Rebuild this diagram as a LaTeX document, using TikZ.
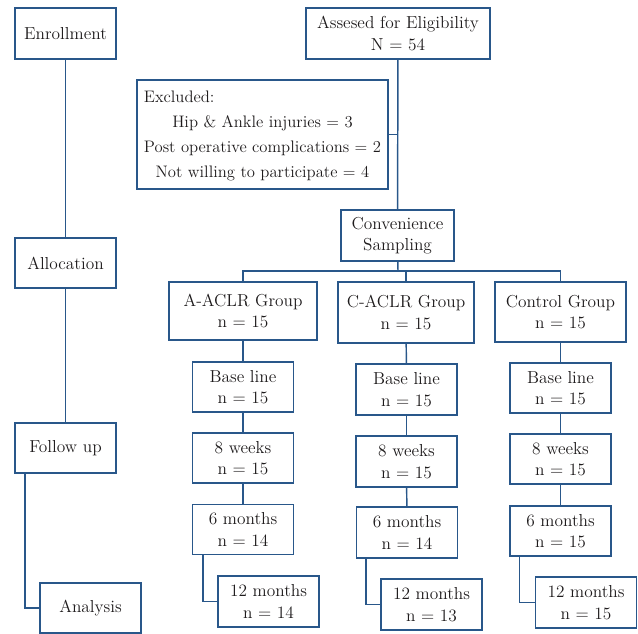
\documentclass[tikz,border=0pt]{standalone}
\usepackage{tikz}
\usepackage[usenames]{xcolor}
\usetikzlibrary{positioning}
\definecolor{boxblue}{RGB}{41,87,138}
\definecolor{txtgray}{RGB}{30,27,28}

\tikzset{
  box/.style={draw=boxblue,line width=1.1pt,inner sep=0pt,align=center,
    text=txtgray,font=\fontsize{13}{16.2}\selectfont},
  stage/.style={box,minimum width=75.75pt,minimum height=37.5pt},
  link/.style={draw=boxblue,line width=1.1pt}
}

\begin{document}
\begin{tikzpicture}[line cap=butt,line join=miter,x=0.75pt,y=-0.75pt]
\useasboundingbox (0,0) rectangle (638,633);
% phases on the left
\node[stage,minimum height=38.25pt] (enroll) at (65.5,33.5) {Enrollment};
\node[stage] (alloc) at (65.5,263) {Allocation};
\node[stage] (follow) at (65.5,448) {Follow up};
\node[stage] (analysis) at (90.5,608) {Analysis};
\draw[link] (enroll) -- (alloc);
\draw[link] (alloc) -- (follow);
\coordinate (fdrop) at (25,473);
\draw[link] (fdrop) |- (analysis.west);
% enrolment and exclusion
\node[box,minimum width=138pt,minimum height=38.25pt] (assess) at (398,33.5) {Assesed for Eligibility\\N = 54};
\node[box,minimum width=188.25pt,minimum height=81.75pt,font=\fontsize{12.5}{18.75}\selectfont] (excl) at (262.5,134.5)
  {\begin{tabular}{@{}c@{}}\multicolumn{1}{@{}l@{}}{Excluded:}\\Hip \& Ankle injuries = 3\\Post operative complications = 2\\Not willing to participate = 4\end{tabular}};
\node[box,minimum width=84.75pt,minimum height=38.25pt] (conv) at (397.5,235.5) {Convenience\\Sampling};
\draw[link] (assess) -- (conv);
\draw[link] (excl.east) -- (excl.east -| assess.south);
% groups
\node[box,minimum width=111pt,minimum height=43.5pt] (grpA) at (243,311) {A-ACLR Group\\n = 15};
\node[box,minimum width=102pt,minimum height=45.75pt] (grpC) at (406,312.5) {C-ACLR Group\\n = 15};
\node[box,minimum width=98.25pt,minimum height=45pt] (grpK) at (560.5,312) {Control Group\\n = 15};
\coordinate (bar) at (398,271);
\draw[link] (conv) -- (bar);
\draw[link] (grpA.north) |- (bar) -| (grpK.north);
\draw[link] (grpC.north) -- (grpC.north |- bar);
% A-ACLR follow up
\node[stage] (baseA) at (243,387) {Base line\\n = 15};
\node[stage] (wkA) at (243,458) {8 weeks\\n = 15};
\node[stage] (sixA) at (243,529.5) {6 months\\n = 14};
\node[stage,minimum height=38.25pt] (twelveA) at (268.5,601.5) {12 months\\n = 14};
\draw[link] (grpA) -- (baseA);
\draw[link] (baseA) -- (wkA);
\draw[link] (wkA) -- (sixA);
\draw[link] ([xshift=8.25pt]sixA.south west) |- (twelveA.west);
% C-ACLR follow up
\node[stage,minimum height=38.25pt] (baseC) at (406.5,389.5) {Base line\\n = 15};
\node[stage,minimum height=38.25pt] (wkC) at (406.5,461.5) {8 weeks\\n = 15};
\node[stage,minimum height=38.25pt] (sixC) at (407,532.5) {6 months\\n = 14};
\node[stage,minimum height=38.25pt] (twelveC) at (431.5,604.5) {12 months\\n = 13};
\draw[link] (grpC) -- (baseC);
\draw[link] (baseC) -- (wkC);
\draw[link] (wkC) -- (sixC);
\draw[link] ([xshift=7.5pt]sixC.south west) |- (twelveC.west);
% control follow up
\node[stage] (baseK) at (560.5,388) {Base line\\n = 15};
\node[stage] (wkK) at (560.5,459) {8 weeks\\n = 15};
\node[stage] (sixK) at (560.5,531) {6 months\\n = 15};
\node[stage,minimum height=38.25pt] (twelveK) at (586,602.5) {12 months\\n = 15};
\draw[link] (grpK) -- (baseK);
\draw[link] (baseK) -- (wkK);
\draw[link] (wkK) -- (sixK);
\draw[link] ([xshift=7.5pt]sixK.south west) |- (twelveK.west);
\end{tikzpicture}
\end{document}
